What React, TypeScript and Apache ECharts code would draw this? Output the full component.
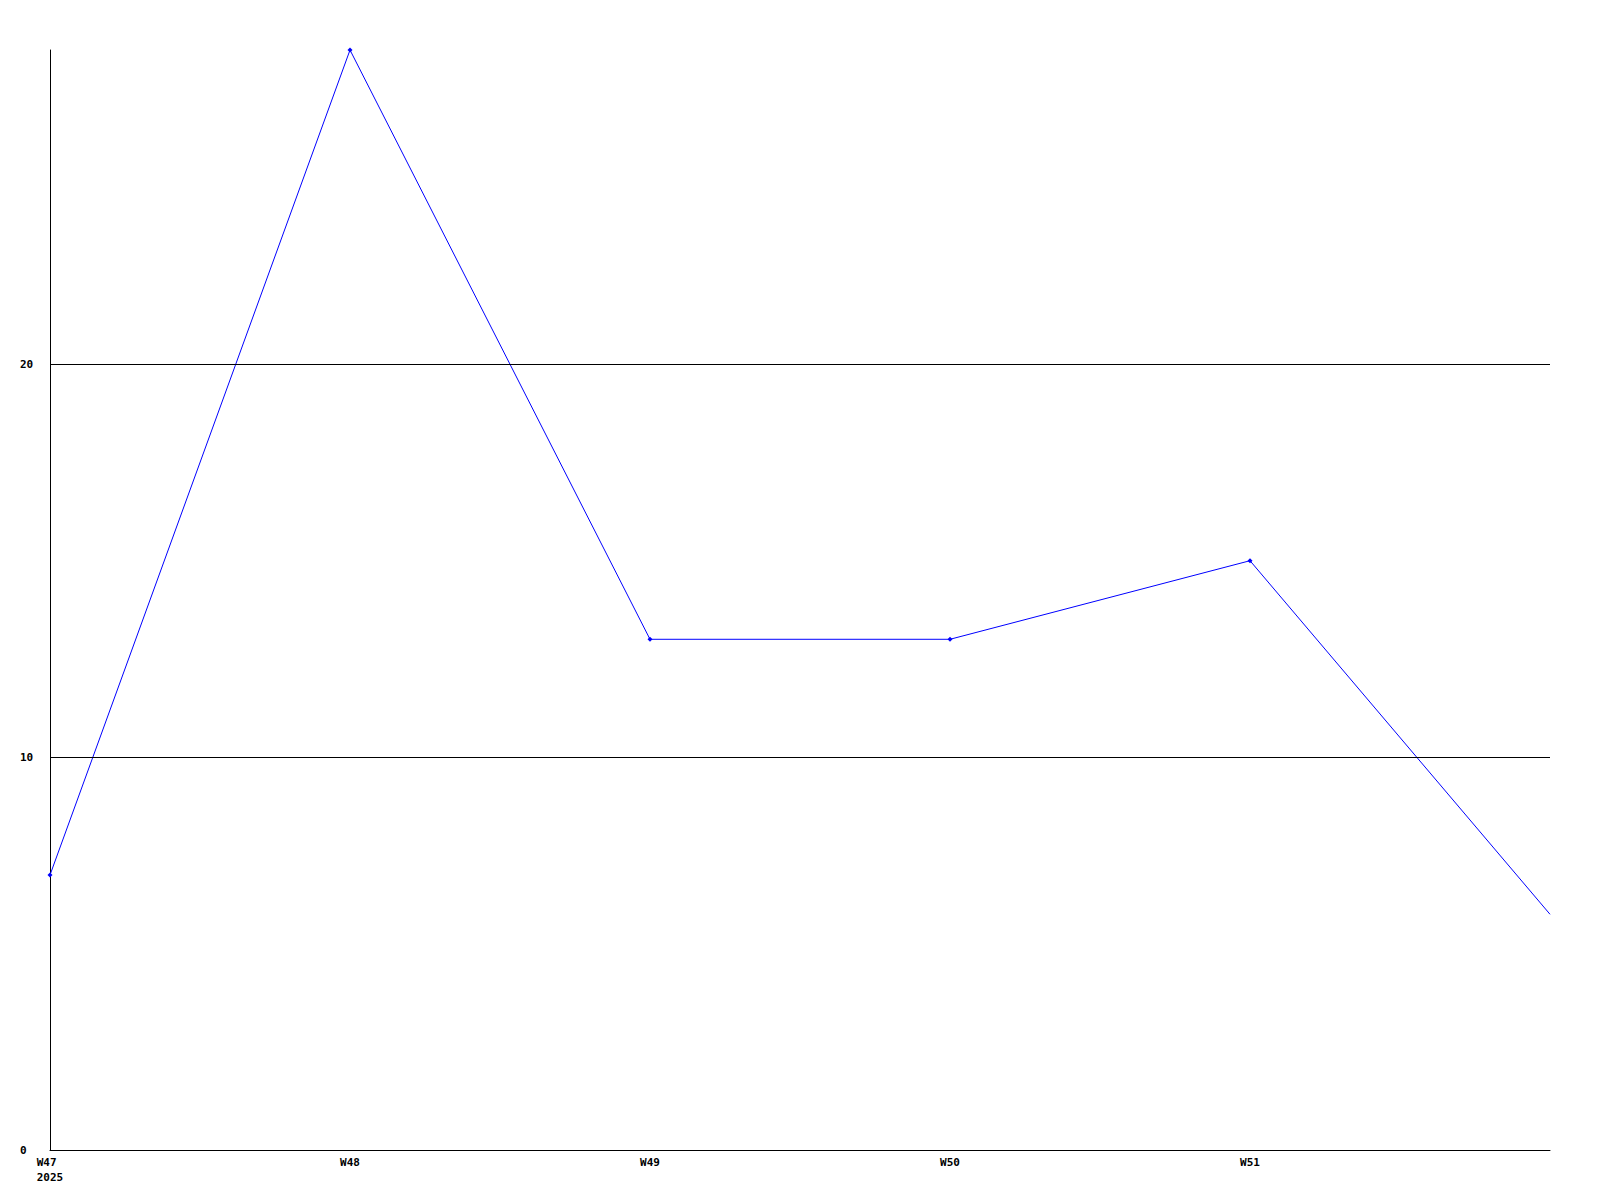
import React, { useEffect, useRef } from "react";
import * as echarts from "echarts";

const categories = ["W47\n2025", "W48", "W49", "W50", "W51", "W52"];
const tickLabels = ["W47 \n2025", "W48", "W49", "W50", "W51", ""];
const values = [7, 28, 13, 13, 15, 6];
const gridValues = [10, 20];

export default function App() {
  const ref = useRef<HTMLDivElement>(null);
  useEffect(() => {
    if (!ref.current) return;
    const chart = echarts.init(ref.current, undefined, { renderer: "svg" });
    const font = { fontFamily: "DejaVu Sans Mono", fontWeight: "bold" as const, fontSize: 11, color: "#000" };
    chart.setOption({
      animation: false,
      backgroundColor: "#fff",
      grid: { left: 50, right: 50, top: 50, bottom: 50 },
      xAxis: {
        type: "category",
        data: categories,
        boundaryGap: false,
        axisLine: { show: true, lineStyle: { color: "#000", width: 1 } },
        axisTick: { show: false },
        splitLine: { show: false },
        axisLabel: {
          ...font,
          interval: 0,
          margin: 5,
          lineHeight: 15,
          formatter: (_v: string, i: number) => tickLabels[i],
        },
      },
      yAxis: {
        type: "value",
        min: 0,
        max: 28,
        interval: 10,
        axisLine: { show: true, lineStyle: { color: "#000", width: 1 } },
        axisTick: { show: false },
        splitLine: { show: false },
        axisLabel: {
          ...font,
          align: "left",
          margin: 30,
          showMaxLabel: false,
        },
      },
      series: [
        {
          type: "line",
          data: values.map((v, i) =>
            i === values.length - 1 ? { value: v, symbol: "none" } : v
          ),
          symbol: "diamond",
          symbolSize: 5,
          showSymbol: true,
          lineStyle: { color: "#0000ff", width: 1 },
          itemStyle: { color: "#0000ff" },
          markLine: {
            silent: true,
            symbol: "none",
            label: { show: false },
            lineStyle: { color: "#000", width: 1, type: "solid" },
            data: gridValues.map((g) => ({ yAxis: g })),
          },
          z: 3,
        },
      ],
    });
    return () => chart.dispose();
  }, []);
  return (
    <div
      ref={ref}
      style={{ position: "absolute", left: 0, top: 0, width: 1600, height: 1200 }}
    />
  );
}
